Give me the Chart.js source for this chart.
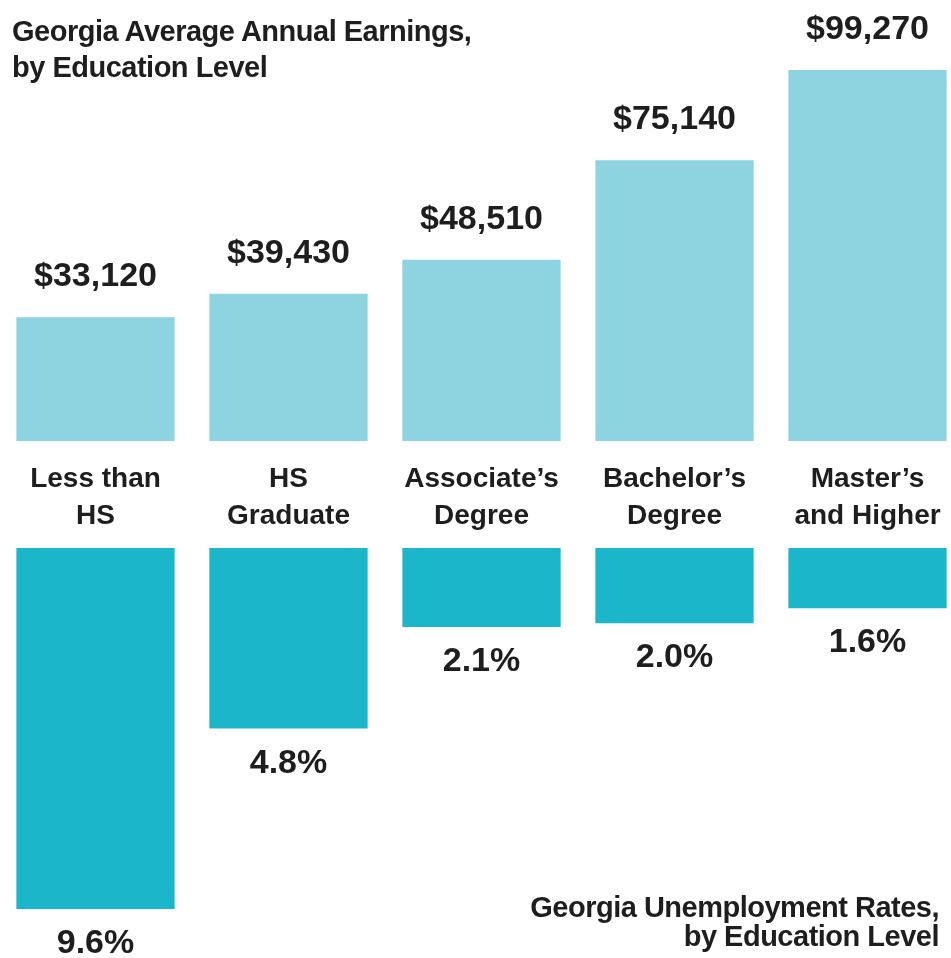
<!DOCTYPE html>
<html>
<head>
<meta charset="utf-8">
<script src="https://cdn.jsdelivr.net/npm/chart.js@4"></script>
<style>
  html, body { margin: 0; padding: 0; background: #fff; width: 951px; height: 958px; overflow: hidden; }
  body { position: relative; font-family: "Liberation Sans", Arial, sans-serif; color: #1e1e1e; }
  canvas { position: absolute; left: -1px; }
  #earnings-chart { top: 0; }
  #unemployment-chart { top: 548px; }
  .title { position: absolute; font-weight: bold; font-size: 29px; letter-spacing: -0.5px; z-index: 2; }
  #top-title { left: 12px; top: 13px; line-height: 36px; }
  #bottom-title { right: 12px; top: 893px; line-height: 29px; text-align: right; }
</style>
</head>
<body>
<div class="title" id="top-title">Georgia Average Annual Earnings,<br>by Education Level</div>
<div class="title" id="bottom-title">Georgia Unemployment Rates,<br>by Education Level</div>
<canvas id="earnings-chart" width="965" height="548"></canvas>
<canvas id="unemployment-chart" width="965" height="410"></canvas>
<script>
// Data
const categories = [
  ['Less than', 'HS'],
  ['HS', 'Graduate'],
  ['Associate\u2019s', 'Degree'],
  ['Bachelor\u2019s', 'Degree'],
  ['Master\u2019s', 'and Higher']
];
const earnings = [33120, 39430, 48510, 75140, 99270];
const unemployment = [9.6, 4.8, 2.1, 2.0, 1.6];

const textColor = '#1e1e1e';
const fontFamily = '"Liberation Sans", Arial, sans-serif';

// Value labels above / below the bars, category labels under the top chart
const labelPlugin = {
  id: 'barLabels',
  afterDatasetsDraw(chart, args, opts) {
    const ctx = chart.ctx;
    const meta = chart.getDatasetMeta(0);
    ctx.save();
    ctx.fillStyle = textColor;
    ctx.textAlign = 'center';
    ctx.textBaseline = 'alphabetic';
    ctx.font = 'bold 34px ' + fontFamily;
    meta.data.forEach((bar, i) => {
      const value = chart.data.datasets[0].data[i];
      if (opts.kind === 'money') {
        ctx.fillText('$' + value.toLocaleString('en-US'), bar.x, bar.y - 31);
      } else {
        ctx.fillText(value.toFixed(1) + '%', bar.x, bar.y + 44);
      }
    });
    if (opts.kind === 'money') {
      ctx.font = 'bold 28px ' + fontFamily;
      const base = chart.chartArea.bottom;
      meta.data.forEach((bar, i) => {
        categories[i].forEach((line, j) => {
          ctx.fillText(line, bar.x, base + 46 + j * 37);
        });
      });
    }
    ctx.restore();
  }
};

function makeChart(id, values, color, yMax, reverse, kind, padBottom) {
  return new Chart(document.getElementById(id), {
    type: 'bar',
    data: {
      labels: categories.map(c => c.join(' ')),
      datasets: [{
        data: values,
        backgroundColor: color,
        borderWidth: 0,
        barPercentage: 0.82,
        categoryPercentage: 1
      }]
    },
    options: {
      responsive: false,
      animation: false,
      layout: { padding: { top: 0, left: 0, right: 0, bottom: padBottom } },
      plugins: {
        legend: { display: false },
        tooltip: { enabled: false },
        barLabels: { kind: kind }
      },
      scales: {
        x: { display: false },
        y: { display: false, min: 0, max: yMax, reverse: reverse }
      }
    },
    plugins: [labelPlugin]
  });
}

makeChart('earnings-chart', earnings, '#8dd3e0', 118000, false, 'money', 107);
makeChart('unemployment-chart', unemployment, '#1cb6cb', 10.9, true, 'pct', 0);
</script>
</body>
</html>
